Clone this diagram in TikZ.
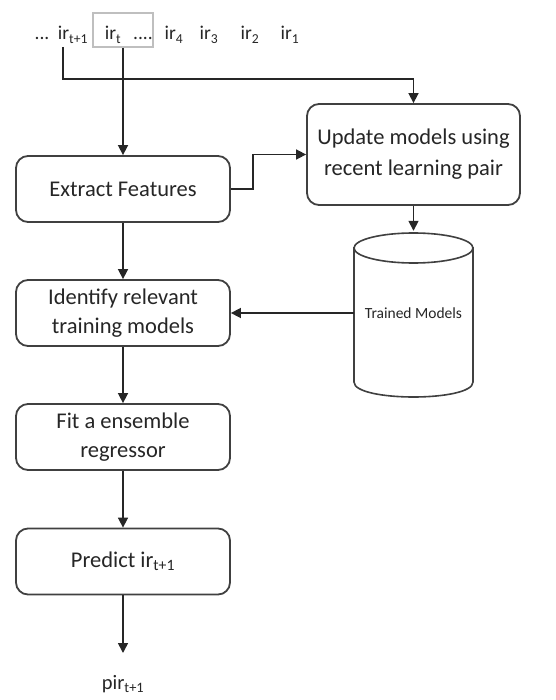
\documentclass[tikz,border=0pt]{standalone}
\usepackage{fontspec}
\setmainfont{Carlito}
\usetikzlibrary{arrows.meta}
\tikzset{
  procbox/.style={draw=black!75, line width=1.8pt, rounded corners=12pt, minimum width=214pt,
    minimum height=66pt, align=center, font=\fontsize{22.5}{29}\selectfont, fill=white, inner sep=0pt, text=black!85},
  seqtxt/.style={font=\fontsize{19.5}{22}\selectfont, inner sep=0pt, anchor=base, text=black!85},
  arr/.style={line width=1.6pt, draw=black!85, -{Triangle[length=10pt,width=10pt]}},
  cylline/.style={line width=1.6pt, draw=black!75, fill=white}
}
\begin{document}
\begin{tikzpicture}[x=1pt,y=-1pt]
\useasboundingbox (0,0) rectangle (555,700);
% top sequence
\node[seqtxt] (dots) at (42,40) {...};
\node[seqtxt] (irA) at (73,40) {ir\textsubscript{t+1}};
\node[draw=black!25, line width=1.2pt, minimum width=60pt, minimum height=34pt, inner sep=0pt] (win) at (123,30) {};
\node[seqtxt] (irt) at (113,40) {ir\textsubscript{t}};
\node[seqtxt] (wdots) at (143,40) {....};
\node[seqtxt] (ir4) at (174,40) {ir\textsubscript{4}};
\node[seqtxt] (ir3) at (209,40) {ir\textsubscript{3}};
\node[seqtxt] (ir2) at (250,40) {ir\textsubscript{2}};
\node[seqtxt] (ir1) at (290,40) {ir\textsubscript{1}};
% boxes
\node[procbox] (ext) at (123,189) {Extract Features};
\node[procbox] (idn) at (123,313) {Identify relevant\\training models};
\node[procbox] (fit) at (123,437) {Fit a ensemble\\regressor};
\node[procbox] (pred) at (123,561.5) {Predict ir\textsubscript{t+1}};
\node[procbox, minimum width=213pt, minimum height=101pt, font=\fontsize{22.5}{31}\selectfont] (upd) at (413.5,154.5) {Update models using\\recent learning pair};
% cylinder
\draw[cylline] (354,248) -- (354,382) .. controls (354,402) and (473,402) .. (473,382) -- (473,248) -- cycle;
\draw[cylline] (413.5,248) ellipse [x radius=59.5, y radius=15];
\node[minimum width=119pt, minimum height=164pt, inner sep=0pt, font=\fontsize{15.5}{18}\selectfont, text=black!85] (cyl) at (413.5,313) {Trained Models};
% output
\node[font=\fontsize{20.5}{24}\selectfont, inner sep=0pt, text=black!85] (out) at (123,684) {pir\textsubscript{t+1}};
\coordinate (outtip) at (123,653);
% connectors
\coordinate (startA) at (63,47);
\coordinate (turnA) at (63,79);
\draw[arr] (startA) -- (turnA) -| (upd.north);
\draw[arr] (win.south) -- (ext.north);
\draw[arr] (ext.east) -- ++(22,0) |- (upd.west);
\draw[arr] (upd.south) -- (cyl.north);
\draw[arr] (idn.east -| cyl.west) -- (idn.east);
\draw[arr] (ext.south) -- (idn.north);
\draw[arr] (idn.south) -- (fit.north);
\draw[arr] (fit.south) -- (pred.north);
\draw[arr] (pred.south) -- (outtip);
\end{tikzpicture}
\end{document}
